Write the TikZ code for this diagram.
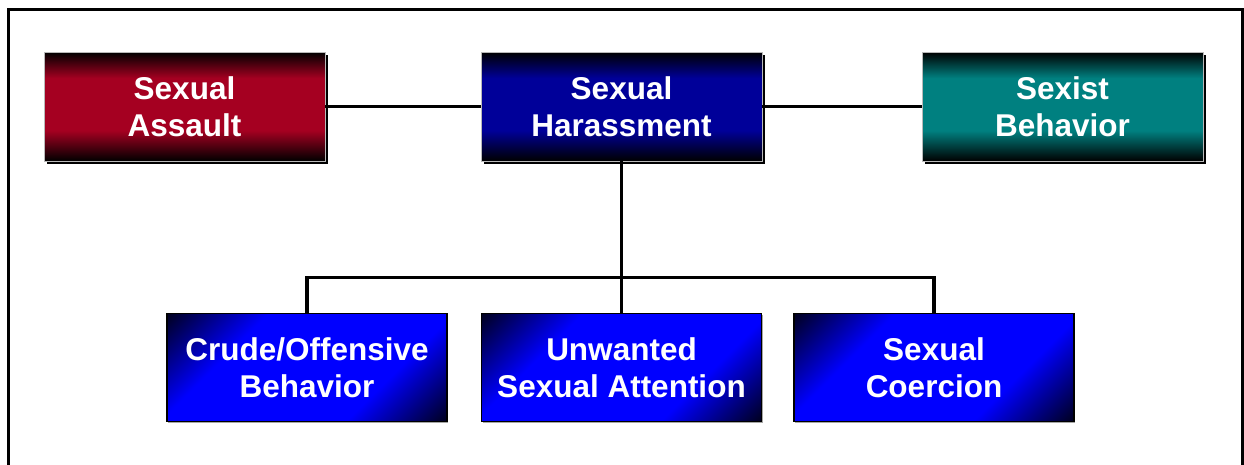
\documentclass[tikz,border=0pt]{standalone}
\usepackage{fontspec}
\setmainfont{Liberation Sans}
\usetikzlibrary{shadows}
\definecolor{assaultred}{HTML}{A50021}
\definecolor{harnavy}{HTML}{000099}
\definecolor{sexteal}{HTML}{008080}
\definecolor{brightblue}{HTML}{0000FF}
\pgfdeclareverticalshading{vred}{100bp}{color(0bp)=(black); color(25bp)=(black); color(39bp)=(assaultred); color(63bp)=(assaultred); color(75bp)=(black); color(100bp)=(black)}
\pgfdeclareverticalshading{vnavy}{100bp}{color(0bp)=(black); color(25bp)=(black); color(39bp)=(harnavy); color(63bp)=(harnavy); color(75bp)=(black); color(100bp)=(black)}
\pgfdeclareverticalshading{vteal}{100bp}{color(0bp)=(black); color(25bp)=(black); color(39bp)=(sexteal); color(63bp)=(sexteal); color(75bp)=(black); color(100bp)=(black)}
\pgfdeclarehorizontalshading{dblue}{100bp}{color(0bp)=(black); color(12bp)=(black); color(33bp)=(brightblue); color(67bp)=(brightblue); color(88bp)=(black); color(100bp)=(black)}
\tikzset{
  x=1pt, y=-1pt,
  boxtext/.style={text=white, font=\fontsize{31.5}{37}\selectfont\bfseries, align=center, inner sep=0pt},
  topbox/.style={boxtext, draw=gray!55, line width=0.8pt, minimum width=281pt, minimum height=109pt,
     general shadow={fill=black, shadow xshift=2.5pt, shadow yshift=-2.5pt}},
  botbox/.style={boxtext, draw=black, line width=1.8pt, minimum width=280pt, minimum height=108pt,
     shading=dblue, shading angle=-45,
     general shadow={fill=gray!70, shadow xshift=1pt, shadow yshift=-1pt}},
  conn/.style={draw=black, line width=3.3pt},
  frame/.style={draw=black, line width=2.6pt}
}
\begin{document}
\begin{tikzpicture}
\useasboundingbox (0,0) rectangle (1244,464);
\fill[white] (0,0) rectangle (1244,464);
\draw[frame] (8.7,470) -- (8.7,9.5) -- (1242.5,9.5) -- (1242.5,470);
\node[topbox, shading=vred] (SA) at (184.5,106.5) {Sexual\\Assault};
\node[topbox, shading=vnavy] (SH) at (621.5,106.5) {Sexual\\Harassment};
\node[topbox, shading=vteal] (SB) at (1062.5,106.5) {Sexist\\Behavior};
\node[botbox] (CO) at (307,367.5) {Crude/Offensive\\Behavior};
\node[botbox] (UW) at (621.5,367.5) {Unwanted\\Sexual Attention};
\node[botbox] (SC) at (934,367.5) {Sexual\\Coercion};
\coordinate (bus) at (621.5,277.3);
\draw[conn] (SA.east) -- (SH.west);
\draw[conn] (SH.east) -- (SB.west);
\draw[conn] (SH.south) -- (UW.north);
\draw[conn] (CO.north) |- (bus) -| (SC.north);
\end{tikzpicture}
\end{document}
